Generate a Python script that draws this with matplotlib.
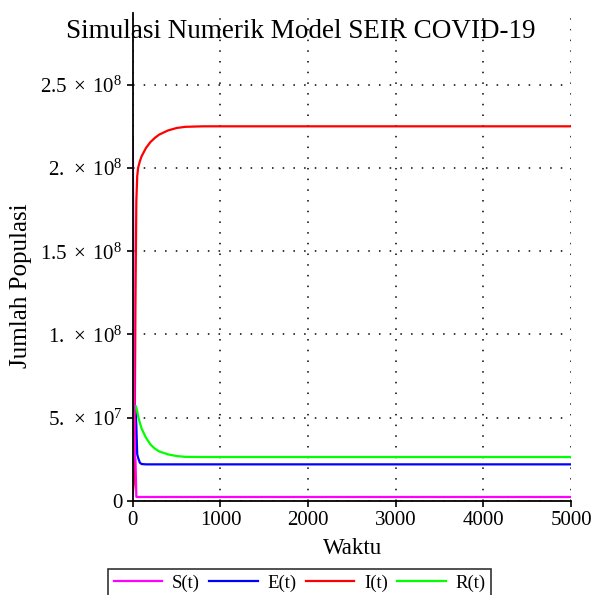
import numpy as np
import matplotlib.pyplot as plt
from matplotlib.ticker import FixedLocator

plt.rcParams['font.family'] = 'Liberation Serif'
plt.rcParams['mathtext.fontset'] = 'custom'
plt.rcParams['mathtext.rm'] = 'Liberation Serif'
plt.rcParams['mathtext.it'] = 'Liberation Serif:italic'

# waktu (hari) dan populasi tiap kompartemen
t = [0, 10, 20, 30, 40, 50, 60, 80, 100, 150, 200, 250, 300, 400, 500, 600, 800, 1000, 5000]
S = [2.17e8, 1.0e8, 2.7e7, 2.5e7, 2.5e6, 2.4e6, 2.4e6, 2.4e6, 2.4e6, 2.4e6, 2.4e6, 2.4e6,
     2.4e6, 2.4e6, 2.4e6, 2.4e6, 2.4e6, 2.4e6, 2.4e6]
E = [5e6, 3e7, 5.5e7, 5.7e7, 4.5e7, 2.8e7, 2.6e7, 2.3e7, 2.22e7, 2.2e7, 2.2e7, 2.2e7,
     2.2e7, 2.2e7, 2.2e7, 2.2e7, 2.2e7, 2.2e7, 2.2e7]
I = [5e6, 1.0e7, 3e7, 1.2e8, 1.8e8, 1.95e8, 2.0e8, 2.04e8, 2.07e8, 2.12e8, 2.155e8, 2.18e8,
     2.2e8, 2.225e8, 2.24e8, 2.247e8, 2.25e8, 2.25e8, 2.25e8]
R = [2e7, 5.0e7, 5.6e7, 5.7e7, 5.6e7, 5.4e7, 5.1e7, 4.7e7, 4.35e7, 3.8e7, 3.4e7, 3.15e7,
     2.98e7, 2.8e7, 2.7e7, 2.65e7, 2.64e7, 2.64e7, 2.64e7]

yticks = [0, 5e7, 1e8, 1.5e8, 2e8, 2.5e8]
ylabels = ['0', r'$5.\;\times\;10^{7}$', r'$1.\;\times\;10^{8}$', r'$1.5\;\times\;10^{8}$',
           r'$2.\;\times\;10^{8}$', r'$2.5\;\times\;10^{8}$']
xticks = [0, 1000, 2000, 3000, 4000, 5000]

fig = plt.figure(figsize=(5.93, 5.95), dpi=100)
ax = fig.add_axes([0.224, 0.158, 0.739, 0.82])

ax.plot(t, E, color='#0000ff', lw=1.6, label='E(t)')
ax.plot(t, I, color='#ff0000', lw=1.6, label='I(t)')
ax.plot(t, R, color='#00ff00', lw=1.6, label='R(t)')
ax.plot(t, S, color='#ff00ff', lw=1.6, label='S(t)')

ax.set_xlim(0, 5000)
ax.set_ylim(0, 2.93e8)
ax.xaxis.set_major_locator(FixedLocator(xticks))
ax.set_yticks(yticks)
ax.set_yticklabels(ylabels)
ax.tick_params(labelsize=15, direction='out', length=4, width=1.2)
ax.grid(True, color='black', linestyle=(0, (1, 6)), linewidth=1.1)
for s in ['top', 'right']:
    ax.spines[s].set_visible(False)
for s in ['left', 'bottom']:
    ax.spines[s].set_linewidth(1.3)

fig.text(0.507, 0.947, 'Simulasi Numerik Model SEIR COVID-19', ha='center', va='center', fontsize=19.5)
fig.text(0.594, 0.078, 'Waktu', ha='center', va='center', fontsize=16.5)
fig.text(0.035, 0.52, 'Jumlah Populasi', ha='center', va='center', rotation=90, fontsize=18)

h, l = ax.get_legend_handles_labels()
order = [3, 0, 1, 2]
leg = fig.legend([h[i] for i in order], [l[i] for i in order], loc='upper center',
                 bbox_to_anchor=(0.505, 0.044), ncol=4, fontsize=13.5,
                 frameon=True, fancybox=False, edgecolor='black', handlelength=2.6,
                 borderaxespad=0, columnspacing=0.5, handletextpad=0.5, borderpad=0.3)
leg.get_frame().set_linewidth(1.2)

plt.savefig('out.png', dpi=100)
